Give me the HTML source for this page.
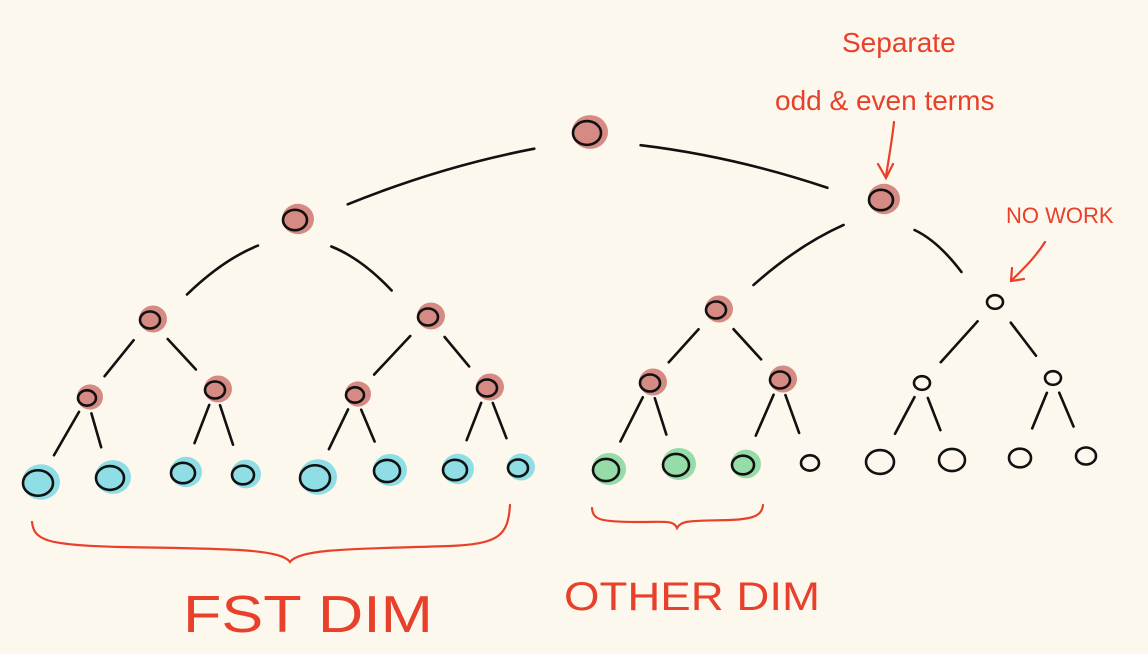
<!DOCTYPE html>
<html><head><meta charset="utf-8"><style>
html,body{margin:0;padding:0;background:#fcf8ee;}
svg{display:block}
text{font-family:"Liberation Sans",sans-serif;fill:#e8402a;}
</style></head><body>
<svg id="s" width="1148" height="654" viewBox="0 0 1148 654">
<rect width="1148" height="654" fill="#fcf8ee"/>
<g id="fills"></g>
<g id="edges" stroke="#111" stroke-width="2.6" stroke-linecap="round" fill="none"></g>
<g id="nodes" stroke="#111" stroke-width="2.6" fill="none"></g>
<g stroke="#e8402a" stroke-width="2.2" fill="none" stroke-linecap="round">
<path d="M894 122 C892 140 889 158 886 176"/>
<path d="M878 164 L886 178 L893 164"/>
<path d="M1045 242 C1035 258 1022 270 1012 280"/>
<path d="M1012 268 L1011 281 L1024 279"/>
<path d="M32 522 C34 540 45 545 120 547 C220 549 280 548 290 562 C300 548 360 549 450 546 C500 544 508 535 510 505"/>
<path d="M592 508 C593 520 600 522 640 522 C665 522 674 520 677 528 C682 520 690 521 730 520 C757 519 762 514 763 505"/>
</g>
<text x="842" y="52" font-size="28">Separate</text>
<text x="775" y="110" font-size="28">odd &amp; even terms</text>
<text x="1006" y="223" font-size="22">NO WORK</text>
<text x="183" y="632" font-size="52" textLength="250" lengthAdjust="spacingAndGlyphs">FST DIM</text>
<text x="564" y="610" font-size="40" textLength="256" lengthAdjust="spacingAndGlyphs">OTHER DIM</text>
</svg>
<script>
var R='#d68a84',C='#8fdde5',G='#95dca8';
var N=[[587,133,14,R],[295,220,12,R],[881,200,12,R],
[150,320,10,R],[428,317,10,R],[716,310,10,R],[995,302,8,null],
[87,398,9,R],[215,390,10,R],[355,395,9,R],[487,388,10,R],[650,383,10,R],[780,380,10,R],[922,383,8,null],[1053,378,8,null],
[38,483,15,C],[110,478,14,C],[183,473,12,C],[243,475,11,C],[315,478,15,C],[387,471,13,C],[455,470,12,C],[518,468,10,C],
[606,470,13,G],[676,465,13,G],[743,465,11,G],[810,463,9,null],[880,462,14,null],[952,460,13,null],[1020,458,11,null],[1086,456,10,null]];
var ns='http://www.w3.org/2000/svg';
function el(t,a,p){var e=document.createElementNS(ns,t);for(var k in a)e.setAttribute(k,a[k]);document.getElementById(p).appendChild(e);}
N.forEach(function(n){var rx=n[2],ry=n[2]*0.85;
if(n[3])el('ellipse',{cx:n[0]+3,cy:n[1]-1,rx:rx+4,ry:ry+5,fill:n[3]},'fills');
el('ellipse',{cx:n[0],cy:n[1],rx:rx,ry:ry},'nodes');});
function E(p,c){var a=N[p],b=N[c];var dx=b[0]-a[0],dy=b[1]-a[1],L=Math.hypot(dx,dy);
var lvl=p==0?[55,55]:(p<3?[45,45]:(p<7?[26,28]:[16,32]));
var s=lvl[0]/L,e=1-lvl[1]/L;
var x1=a[0]+dx*s,y1=a[1]+dy*s,x2=a[0]+dx*e,y2=a[1]+dy*e;
var mx=(x1+x2)/2,my=(y1+y2)/2-(Math.abs(dx)>100?10:0);
el('path',{d:'M'+x1+' '+y1+' Q'+mx+' '+my+' '+x2+' '+y2},'edges');}
var T=[[0,1],[0,2],[1,3],[1,4],[2,5],[2,6],[3,7],[3,8],[4,9],[4,10],[5,11],[5,12],[6,13],[6,14]];
for(var i=7;i<=14;i++){T.push([i,15+(i-7)*2]);T.push([i,16+(i-7)*2]);}
T.forEach(function(t){E(t[0],t[1]);});
</script>
</body></html>
